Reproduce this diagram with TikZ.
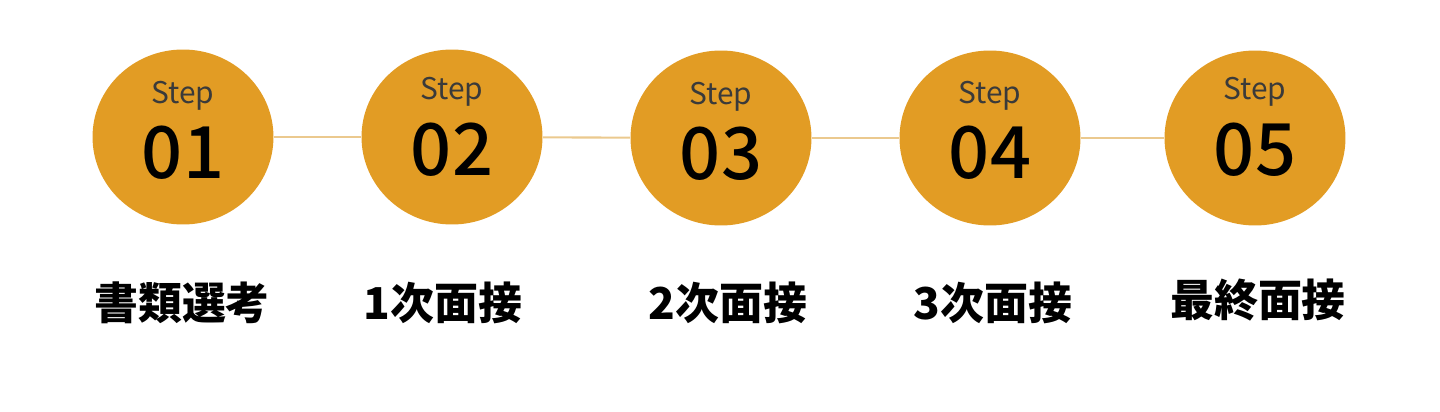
\documentclass[tikz,border=0pt]{standalone}
\usepackage{fontspec}
\usepackage{xcolor}
\usetikzlibrary{shapes.geometric}
\newfontfamily\jpfont{Noto Sans CJK JP}
\newfontfamily\jpmedium{Noto Sans CJK JP Medium}
\definecolor{gold}{HTML}{E29C24}
\definecolor{link}{HTML}{EBC98E}
\definecolor{mute}{HTML}{3A3A3A}

\begin{document}
\begin{tikzpicture}[x=0.02cm, y=-0.02cm,
    stepdot/.style={ellipse, fill=gold, minimum width=3.62cm, minimum height=3.5cm, inner sep=0pt},
    steptag/.style={font=\jpfont\fontsize{17}{17}\selectfont, text=mute},
    stepnum/.style={font=\jpmedium\fontsize{41}{41}\selectfont, text=black},
    steplabel/.style={font=\jpfont\bfseries\fontsize{25}{25}\selectfont, text=black}]
  \useasboundingbox (0,0) rectangle (1440,412);
  \node[stepdot] (s1) at (183,137) {};
  \node[stepdot] (s2) at (452,137) {};
  \node[stepdot] (s3) at (721,138) {};
  \node[stepdot] (s4) at (990,138) {};
  \node[stepdot] (s5) at (1255,138) {};
  \draw[link, line width=1.2pt] (s1) -- (s2);
  \draw[link, line width=1.2pt] (s2) -- (s3);
  \draw[link, line width=1.2pt] (s3) -- (s4);
  \draw[link, line width=1.2pt] (s4) -- (s5);
  \node[steptag] (t1) at (183,96) {Step};
  \node[steptag] (t2) at (452,92) {Step};
  \node[steptag] (t3) at (721,97) {Step};
  \node[steptag] (t4) at (990,96) {Step};
  \node[steptag] (t5) at (1255,92) {Step};
  \node[stepnum] (n1) at (183,153) {01};
  \node[stepnum] (n2) at (452,150) {02};
  \node[stepnum] (n3) at (721,154) {03};
  \node[stepnum] (n4) at (990,153) {04};
  \node[stepnum] (n5) at (1255,150) {05};
  \node[steplabel] (l1) at (182,303) {書類選考};
  \node[steplabel] (l2) at (443,303) {1次面接};
  \node[steplabel] (l3) at (728,303) {2次面接};
  \node[steplabel] (l4) at (993,303) {3次面接};
  \node[steplabel] (l5) at (1258,300) {最終面接};
\end{tikzpicture}
\end{document}
